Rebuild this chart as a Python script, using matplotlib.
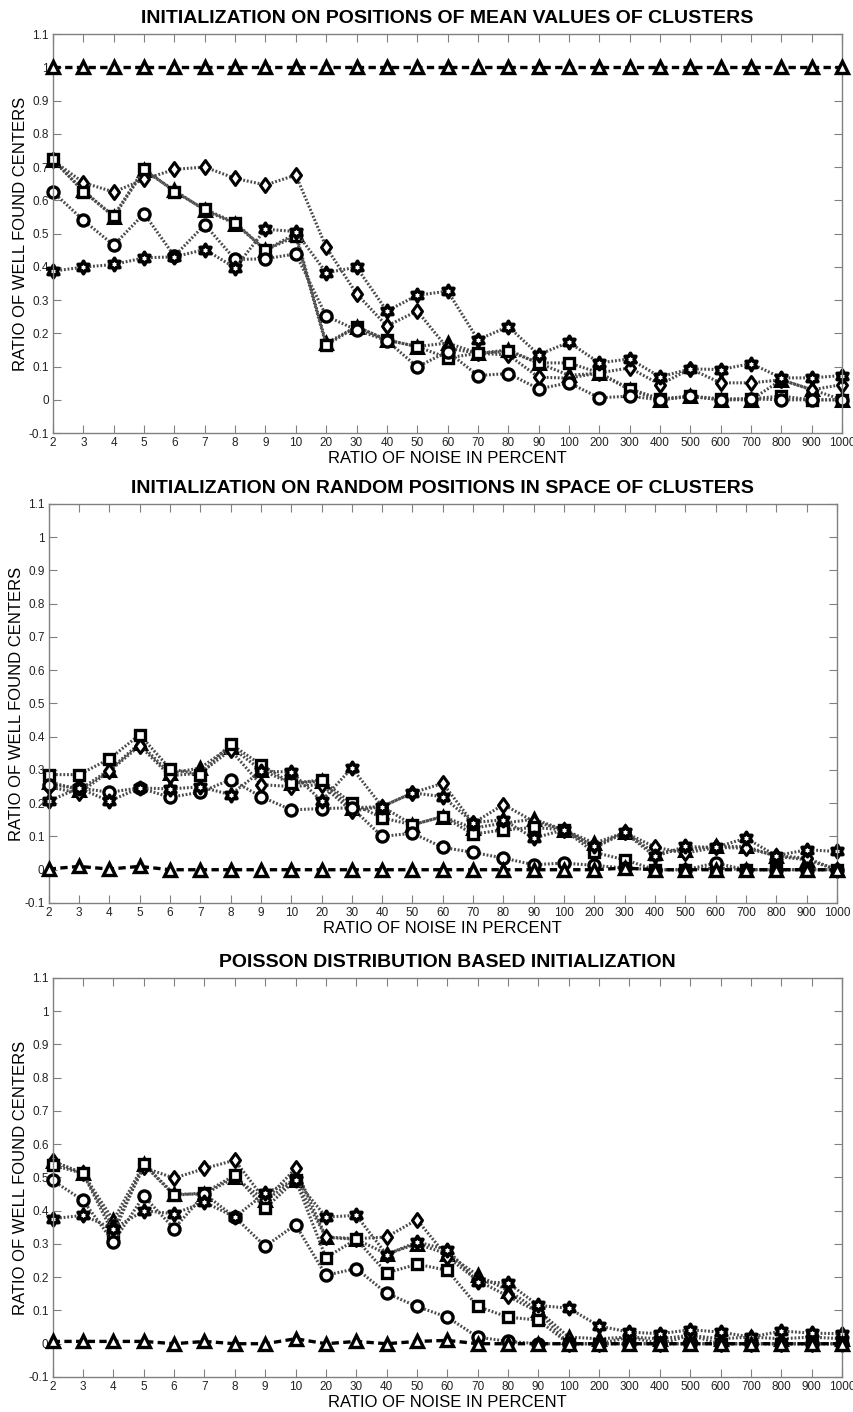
import numpy as np
import matplotlib
matplotlib.use("Agg")
import matplotlib.pyplot as plt
from matplotlib.path import Path

plt.rcParams['font.family'] = ['Liberation Sans', 'DejaVu Sans']

noise_labels = ['2', '3', '4', '5', '6', '7', '8', '9', '10', '20', '30', '40', '50',
                '60', '70', '80', '90', '100', '200', '300', '400', '500', '600',
                '700', '800', '900', '1000']

titles = ['INITIALIZATION ON POSITIONS OF MEAN VALUES OF CLUSTERS',
          'INITIALIZATION ON RANDOM POSITIONS IN SPACE OF CLUSTERS',
          'POISSON DISTRIBUTION BASED INITIALIZATION']

# --- mean-value initialization ---
p1_ref = [1.0] * 27
p1_tri = [0.72, 0.63, 0.55, 0.69, 0.63, 0.57, 0.53, 0.45, 0.50, 0.17, 0.22, 0.18, 0.16,
          0.171, 0.14, 0.15, 0.11, 0.074, 0.08, 0.03, 0.0, 0.01, 0.0, 0.0, 0.06, 0.031, 0.0]
p1_dia = [0.72, 0.653, 0.625, 0.663, 0.693, 0.70, 0.666, 0.646, 0.676, 0.459, 0.319, 0.222, 0.267,
          0.155, 0.14, 0.135, 0.068, 0.065, 0.081, 0.096, 0.046, 0.093, 0.051, 0.051, 0.06, 0.03, 0.046]
p1_sq = [0.723, 0.626, 0.553, 0.695, 0.626, 0.573, 0.533, 0.45, 0.492, 0.164, 0.22, 0.18, 0.16,
         0.126, 0.14, 0.146, 0.111, 0.111, 0.081, 0.033, 0.003, 0.011, 0.003, 0.003, 0.011, 0.0, 0.0]
p1_cir = [0.625, 0.54, 0.465, 0.56, 0.432, 0.527, 0.422, 0.424, 0.439, 0.252, 0.21, 0.178, 0.099,
          0.145, 0.073, 0.079, 0.033, 0.051, 0.006, 0.011, 0.0, 0.011, 0.0, 0.003, 0.0, 0.0, 0.0]
p1_hex = [0.387, 0.399, 0.407, 0.427, 0.43, 0.452, 0.397, 0.513, 0.506, 0.382, 0.399, 0.267, 0.314,
          0.327, 0.181, 0.22, 0.136, 0.173, 0.111, 0.123, 0.069, 0.093, 0.091, 0.109, 0.066, 0.066, 0.073]

# --- random-position initialization ---
p2_ref = [0.002, 0.01, 0.002, 0.01, 0.0, 0.0, 0.0, 0.0, 0.0, 0.0, 0.0, 0.0, 0.0,
          0.0, 0.0, 0.0, 0.0, 0.0, 0.0, 0.005, 0.0, 0.0, 0.0, 0.0, 0.0, 0.0, 0.0]
p2_tri = [0.265, 0.24, 0.30, 0.38, 0.29, 0.306, 0.37, 0.30, 0.26, 0.266, 0.186, 0.19, 0.135,
          0.16, 0.125, 0.14, 0.152, 0.12, 0.08, 0.112, 0.05, 0.06, 0.07, 0.07, 0.04, 0.03, 0.0]
p2_dia = [0.25, 0.23, 0.296, 0.373, 0.283, 0.29, 0.36, 0.256, 0.25, 0.256, 0.176, 0.19, 0.231,
          0.26, 0.14, 0.196, 0.145, 0.12, 0.065, 0.112, 0.068, 0.05, 0.067, 0.065, 0.042, 0.035, 0.0]
p2_sq = [0.286, 0.286, 0.333, 0.406, 0.304, 0.286, 0.378, 0.316, 0.26, 0.27, 0.2, 0.156, 0.135,
         0.16, 0.107, 0.12, 0.127, 0.12, 0.052, 0.03, 0.0, 0.0, 0.005, 0.0, 0.0, 0.0, 0.0]
p2_cir = [0.256, 0.246, 0.233, 0.246, 0.218, 0.233, 0.271, 0.22, 0.18, 0.184, 0.186, 0.1, 0.11,
          0.067, 0.052, 0.035, 0.015, 0.02, 0.013, 0.005, 0.0, 0.0, 0.02, 0.0, 0.0, 0.0, 0.0]
p2_hex = [0.206, 0.246, 0.206, 0.246, 0.243, 0.249, 0.226, 0.296, 0.294, 0.207, 0.306, 0.19, 0.231,
          0.22, 0.142, 0.15, 0.095, 0.12, 0.07, 0.112, 0.04, 0.07, 0.067, 0.095, 0.042, 0.06, 0.055]

# --- Poisson based initialization ---
p3_ref = [0.007, 0.007, 0.007, 0.007, 0.0, 0.007, 0.0, 0.0, 0.015, 0.0, 0.007, 0.0, 0.007,
          0.01, 0.0, 0.0, 0.0, 0.0, 0.0, 0.0, 0.0, 0.0, 0.0, 0.0, 0.0, 0.0, 0.0]
p3_tri = [0.549, 0.512, 0.371, 0.54, 0.45, 0.45, 0.50, 0.431, 0.493, 0.32, 0.314, 0.27, 0.30,
          0.27, 0.206, 0.16, 0.10, 0.02, 0.015, 0.02, 0.015, 0.025, 0.015, 0.02, 0.015, 0.02, 0.015]
p3_dia = [0.549, 0.512, 0.35, 0.53, 0.498, 0.527, 0.552, 0.431, 0.527, 0.321, 0.316, 0.321, 0.373,
          0.261, 0.19, 0.143, 0.095, 0.0, 0.0, 0.02, 0.0, 0.025, 0.0, 0.0, 0.0, 0.0, 0.0]
p3_sq = [0.537, 0.512, 0.33, 0.54, 0.446, 0.454, 0.507, 0.407, 0.493, 0.259, 0.314, 0.213, 0.239,
         0.221, 0.112, 0.08, 0.071, 0.0, 0.0, 0.0, 0.0, 0.0, 0.0, 0.0, 0.0, 0.0, 0.0]
p3_cir = [0.491, 0.431, 0.306, 0.444, 0.346, 0.45, 0.381, 0.293, 0.358, 0.206, 0.226, 0.152, 0.112,
          0.08, 0.02, 0.007, 0.0, 0.0, 0.0, 0.0, 0.0, 0.0, 0.0, 0.0, 0.0, 0.0, 0.0]
p3_hex = [0.376, 0.386, 0.346, 0.40, 0.391, 0.426, 0.381, 0.453, 0.493, 0.381, 0.386, 0.268, 0.306,
          0.283, 0.186, 0.183, 0.115, 0.107, 0.053, 0.035, 0.03, 0.042, 0.035, 0.02, 0.038, 0.032, 0.03]

panels = [
    (p1_ref, p1_tri, p1_dia, p1_sq, p1_cir, p1_hex),
    (p2_ref, p2_tri, p2_dia, p2_sq, p2_cir, p2_hex),
    (p3_ref, p3_tri, p3_dia, p3_sq, p3_cir, p3_hex),
]

# six-pointed star marker
ang = np.pi / 2 + np.arange(12) * np.pi / 6
rad = np.where(np.arange(12) % 2 == 0, 1.0, 0.58)
hex_verts = np.column_stack([rad * np.cos(ang), rad * np.sin(ang)])
hex_verts = np.vstack([hex_verts, hex_verts[:1]])
hexagram = Path(hex_verts, closed=True)

# diamond slightly taller than wide
diamond = Path([(0, 1), (0.72, 0), (0, -1), (-0.72, 0), (0, 1)], closed=True)

dotted = (0, (0.6, 0.6))
dot_color = '#4a4a4a'

fig = plt.figure(figsize=(8.54, 14.12), dpi=100)
axes_rects = [
    [0.0621, 0.6933, 0.9240, 0.2826],
    [0.0570, 0.3605, 0.9230, 0.2826],
    [0.0617, 0.0248, 0.9242, 0.2826],
]

x = np.arange(len(noise_labels))
for rect, title, series in zip(axes_rects, titles, panels):
    ax = fig.add_axes(rect)
    ref, tri, dia, sq, cir, hexs = series
    common = dict(markerfacecolor='white', markeredgecolor='black', clip_on=False)
    ax.plot(x, tri, linestyle=dotted, color=dot_color, lw=2.2, marker='^', ms=8, mew=2.2, **common)
    ax.plot(x, dia, linestyle=dotted, color=dot_color, lw=2.2, marker=diamond, ms=10, mew=2.2, **common)
    ax.plot(x, sq, linestyle=dotted, color=dot_color, lw=2.2, marker='s', ms=7.5, mew=2.4, **common)
    ax.plot(x, cir, linestyle=dotted, color=dot_color, lw=2.2, marker='o', ms=8, mew=2.4, **common)
    ax.plot(x, hexs, linestyle=dotted, color=dot_color, lw=2.2, marker=hexagram, ms=9, mew=2.6, **common)
    ax.plot(x, ref, linestyle=(0, (2.2, 1.3)), color='black', lw=2.4, marker='^', ms=9, mew=2.4,
            zorder=5, **common)

    ax.set_xlim(0, len(noise_labels) - 1)
    ax.set_ylim(-0.1, 1.1)
    ax.set_xticks(x)
    ax.set_xticklabels(noise_labels, fontsize=8.5)
    yt = np.round(np.arange(-0.1, 1.101, 0.1), 1)
    ax.set_yticks(yt)
    ax.set_yticklabels(['0' if abs(v) < 1e-9 else ('1' if abs(v - 1) < 1e-9 else f'{v:g}') for v in yt],
                       fontsize=8.5)
    ax.tick_params(direction='in', length=6, width=0.8, color='#808080', top=True, right=True,
                   labeltop=False, labelright=False, pad=3, labelcolor='#222222')
    for sp in ax.spines.values():
        sp.set_color('#808080')
        sp.set_linewidth(1.0)
    ax.set_title(title, fontsize=14, fontweight='bold', pad=8)
    ax.set_xlabel('RATIO OF NOISE IN PERCENT', fontsize=12, labelpad=1)
    ax.set_ylabel('RATIO OF WELL FOUND CENTERS', fontsize=12, labelpad=0)

fig.savefig('out.png', dpi=100)
